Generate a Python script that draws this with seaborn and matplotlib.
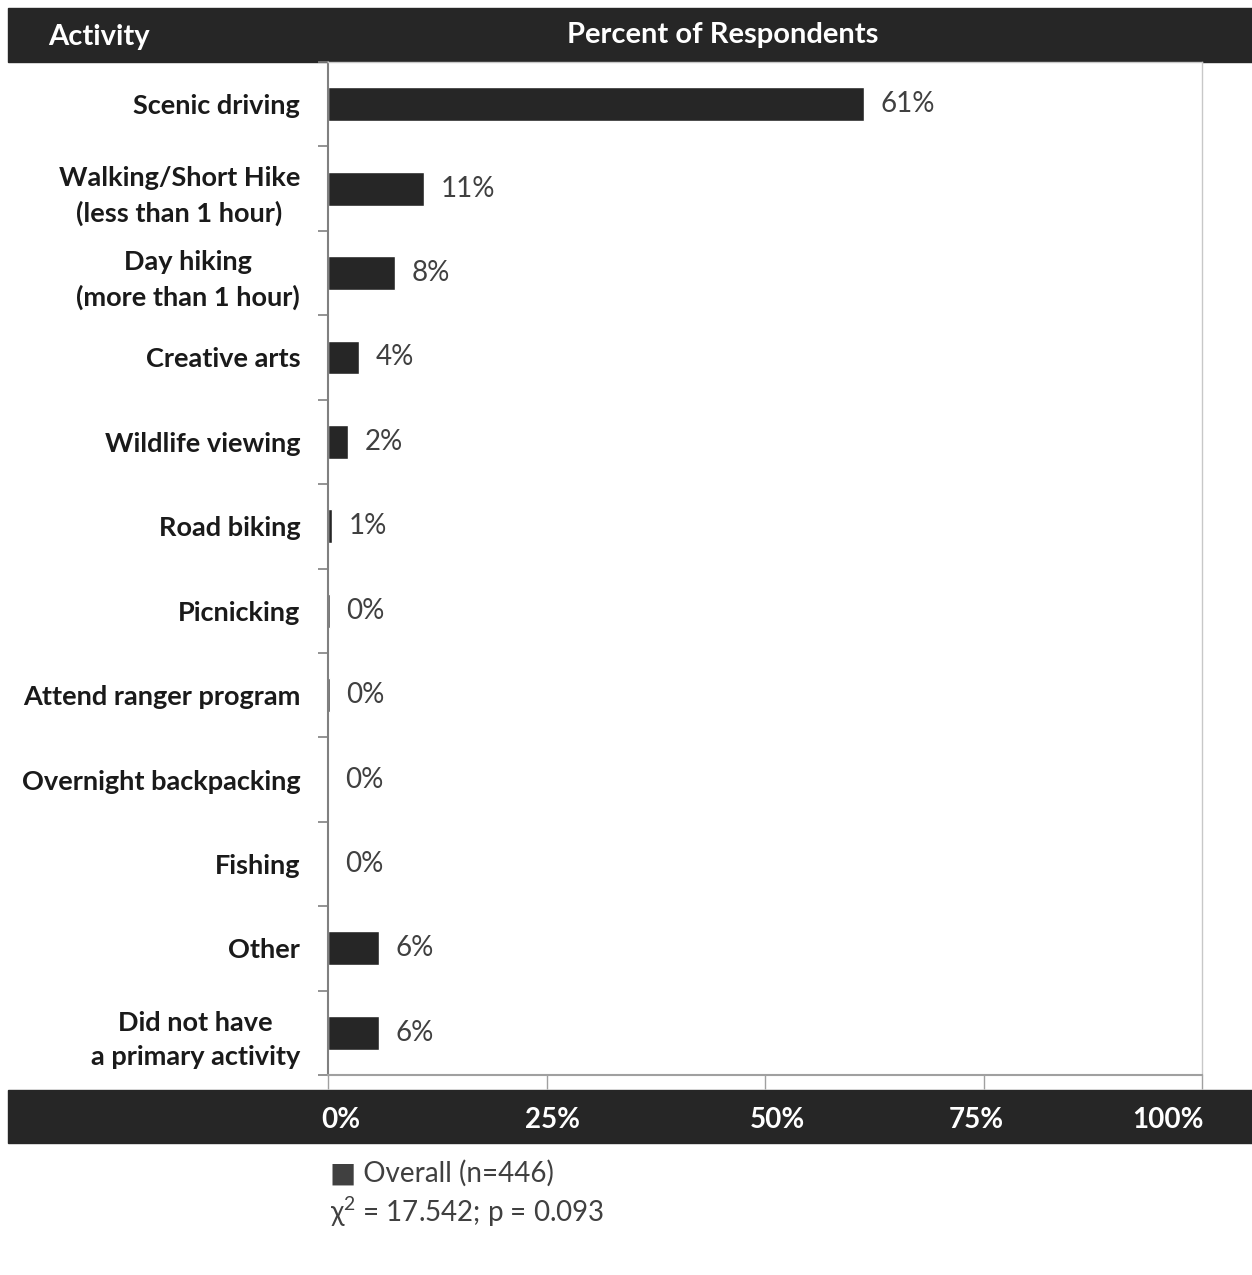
import numpy as np
import matplotlib
matplotlib.use("Agg")
import matplotlib.pyplot as plt
import matplotlib.transforms as mtransforms
import seaborn as sns
from matplotlib.patches import Rectangle

# datos
actividades = [
    "Scenic driving",
    "Walking/Short Hike\n(less than 1 hour)",
    "Day hiking\n(more than 1 hour)",
    "Creative arts",
    "Wildlife viewing",
    "Road biking",
    "Picnicking",
    "Attend ranger program",
    "Overnight backpacking",
    "Fishing",
    "Other",
    "Did not have\na primary activity",
]
porcentajes = [61.3, 11.0, 7.7, 3.5, 2.3, 0.5, 0.2, 0.2, 0.0, 0.0, 5.8, 5.8]
etiquetas = ["61%", "11%", "8%", "4%", "2%", "1%", "0%", "0%", "0%", "0%", "6%", "6%"]
ticks_x = [0, 25, 50, 75, 100]
ticks_lbl = ["0%", "25%", "50%", "75%", "100%"]
leyenda = "■ Overall (n=446)"
estadistico = r"χ$^{2}$ = 17.542; p = 0.093"

sns.set_style("white")
plt.rcParams["font.family"] = ["Lato", "DejaVu Sans"]
plt.rcParams["mathtext.fontset"] = "custom"
plt.rcParams["mathtext.rm"] = "Lato"
plt.rcParams["mathtext.default"] = "rm"

oscuro = "#262626"
fig = plt.figure(figsize=(12.52, 12.75), dpi=100)
ax = fig.add_axes([328 / 1252, 1 - 1075 / 1275, (1202 - 328) / 1252, (1075 - 62) / 1275])

sns.barplot(x=porcentajes, y=actividades, orient="h", color=oscuro,
            width=0.4, saturation=1, ax=ax)

# etiquetas de valor
for i, (v, t) in enumerate(zip(porcentajes, etiquetas)):
    ax.annotate(t, (v, i), xytext=(12, 0), textcoords="offset points",
                va="center", ha="left", fontsize=20, color="#404040")

ax.set_xlim(0, 100)
ax.set_ylim(11.5, -0.5)
ax.set_xlabel("")
ax.set_ylabel("")

# eje y
ax.set_yticks(range(len(actividades)))
ax.set_yticklabels(actividades, fontsize=19.5, fontweight="bold", color="#1a1a1a",
                   multialignment="center", linespacing=1.5)
ax.tick_params(axis="y", which="major", left=False, length=0, pad=20)
ax.set_yticks(np.arange(-0.5, 12, 1), minor=True)
ax.tick_params(axis="y", which="minor", left=True, length=7, width=1.2,
               color="#808080", direction="out")

# eje x: etiquetas en la banda oscura
ax.set_xticks(ticks_x)
ax.set_xticklabels(ticks_lbl, fontsize=20, fontweight="bold", color="white")
ax.tick_params(axis="x", bottom=True, length=10, width=1, color="#a0a0a0",
               direction="out", pad=13)
# pequeño desplazamiento horizontal de cada etiqueta (px)
desplaz = [13, 6, 12, -7, -34]
for lbl, dx in zip(ax.get_xticklabels(), desplaz):
    lbl.set_transform(lbl.get_transform() +
                      mtransforms.ScaledTranslation(dx / 100, 0, fig.dpi_scale_trans))

for lado in ["top", "right"]:
    ax.spines[lado].set_color("#c8c8c8")
    ax.spines[lado].set_linewidth(1)
ax.spines["left"].set_color("#808080")
ax.spines["left"].set_linewidth(1.5)
ax.spines["bottom"].set_color("#a0a0a0")
ax.spines["bottom"].set_linewidth(1.5)

# bandas oscuras
fig.patches.append(Rectangle((8 / 1252, 1 - 62 / 1275), 1, 54 / 1275,
                             transform=fig.transFigure, color=oscuro, zorder=-1))
fig.patches.append(Rectangle((8 / 1252, 1 - 1143 / 1275), 1, 53 / 1275,
                             transform=fig.transFigure, color=oscuro, zorder=-1))

fig.text(48 / 1252, 1 - 37 / 1275, "Activity", color="white", fontsize=21,
         fontweight="bold", va="center", ha="left")
fig.text(723 / 1252, 1 - 35 / 1275, "Percent of Respondents", color="white",
         fontsize=21, fontweight="bold", va="center", ha="center")

# leyenda
fig.text(330 / 1252, 1 - 1173 / 1275, leyenda, fontsize=20, color="#404040",
         va="center", ha="left")
fig.text(330 / 1252, 1 - 1212 / 1275, estadistico, fontsize=20, color="#404040",
         va="center", ha="left")

plt.savefig("out.png", dpi=100)
